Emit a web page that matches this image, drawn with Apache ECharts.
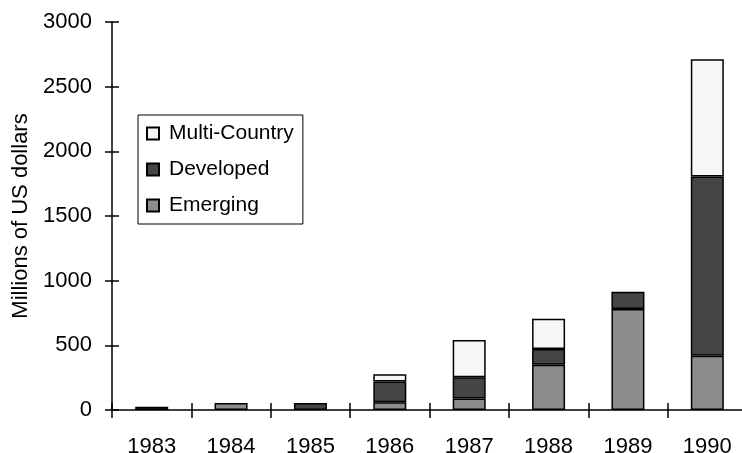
<!DOCTYPE html>
<html>
<head>
<meta charset="utf-8">
<script src="https://cdn.jsdelivr.net/npm/echarts@6/dist/echarts.min.js"></script>
<style>
html,body{margin:0;padding:0;background:#fff;}
#chart{width:742px;height:453px;}
</style>
</head>
<body>
<div id="chart"></div>
<script>
var years = ['1983','1984','1985','1986','1987','1988','1989','1990'];
var emerging = [null, 55, null, 60, 88, 350, 780, 420];
var developed = [25, null, 55, 160, 165, 122, 135, 1385];
var multiCountry = [null, null, null, 56, 288, 234, null, 907];
var yTicks = [0, 500, 1000, 1500, 2000, 2500, 3000];

var FONT = 'Liberation Sans, Arial, sans-serif';
var chart = echarts.init(document.getElementById('chart'));

function barSeries(name, data, color) {
  return {
    name: name,
    type: 'bar',
    stack: 'total',
    data: data,
    barWidth: 33,
    itemStyle: { color: color, borderColor: '#000', borderWidth: 1.5 },
    emphasis: { disabled: true }
  };
}

chart.setOption({
  animation: false,
  backgroundColor: '#fff',
  textStyle: { fontFamily: FONT },
  grid: { left: 112, top: 22, bottom: 43, right: -5, containLabel: false, outerBoundsMode: 'none' },
  legend: {
    orient: 'vertical',
    left: 138,
    top: 115,
    padding: [8, 9, 8, 8],
    borderColor: '#000',
    borderWidth: 1,
    itemWidth: 12,
    itemHeight: 12,
    itemGap: 15,
    icon: 'rect',
    data: ['Multi-Country', 'Developed', 'Emerging'],
    textStyle: { fontFamily: FONT, fontSize: 21, color: '#000', lineHeight: 20, padding: [0, 0, 0, 5] }
  },
  xAxis: [{
    type: 'category',
    data: years,
    boundaryGap: true,
    axisLine: { lineStyle: { color: '#000', width: 1.5 } },
    axisTick: { show: true, length: 8, lineStyle: { color: '#000', width: 1.5 } },
    axisLabel: { fontFamily: FONT, fontSize: 22, color: '#000', margin: 26 },
    splitLine: { show: false }
  }, {
    type: 'category',
    data: years,
    position: 'bottom',
    boundaryGap: true,
    axisLine: { show: false },
    axisTick: { show: true, inside: true, length: 7, lineStyle: { color: '#000', width: 1.5 } },
    axisLabel: { show: false },
    splitLine: { show: false }
  }],
  yAxis: [{
    type: 'value',
    min: yTicks[0],
    max: yTicks[yTicks.length - 1],
    interval: 500,
    name: 'Millions of US dollars',
    nameLocation: 'middle',
    nameGap: 79,
    nameTextStyle: { fontFamily: FONT, fontSize: 22, color: '#000' },
    axisLine: { show: true, lineStyle: { color: '#000', width: 1.5 } },
    axisTick: { show: true, length: 7, lineStyle: { color: '#000', width: 1.5 } },
    axisLabel: { fontFamily: FONT, fontSize: 22, color: '#000', margin: 20, formatter: function (v) { return String(v); } },
    splitLine: { show: false }
  }, {
    type: 'value',
    position: 'left',
    min: yTicks[0],
    max: yTicks[yTicks.length - 1],
    interval: 500,
    axisLine: { show: false },
    axisTick: { show: true, inside: true, length: 7, lineStyle: { color: '#000', width: 1.5 } },
    axisLabel: { show: false },
    splitLine: { show: false }
  }],
  series: [
    barSeries('Emerging', emerging, '#8c8c8c'),
    barSeries('Developed', developed, '#454545'),
    barSeries('Multi-Country', multiCountry, '#f6f6f6')
  ]
});
</script>
</body>
</html>
